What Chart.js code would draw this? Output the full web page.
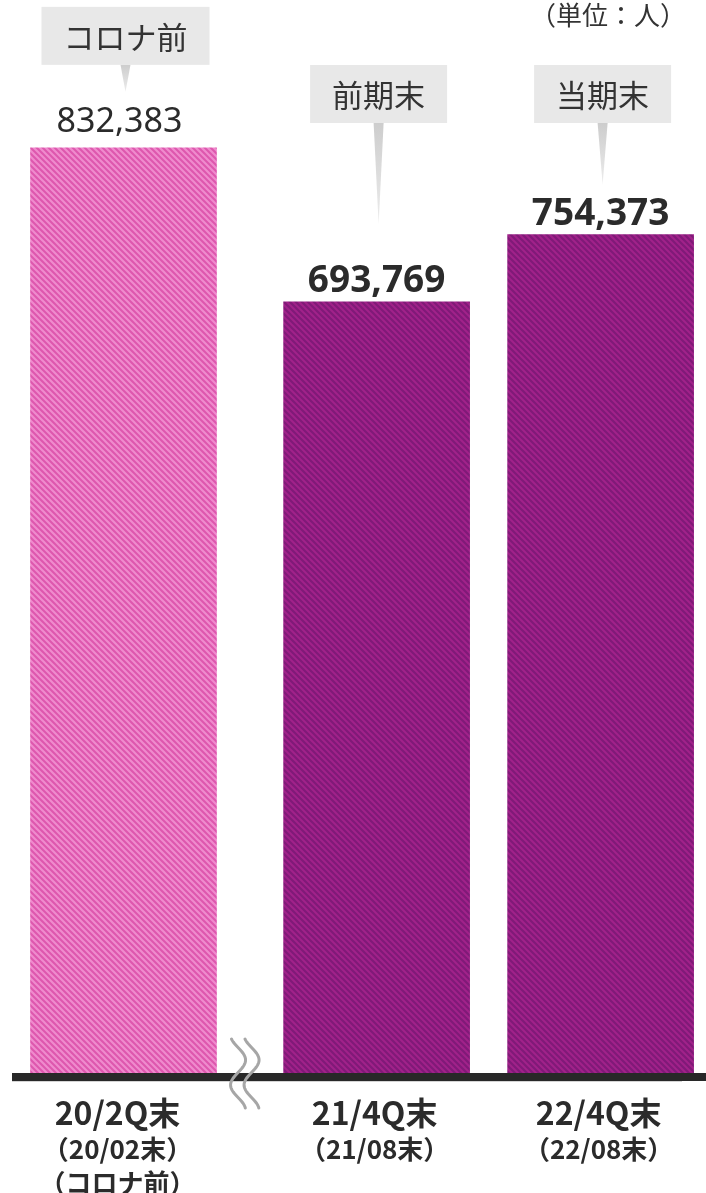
<!DOCTYPE html>
<html lang="ja">
<head>
<meta charset="utf-8">
<title>人数推移</title>
<script src="https://cdn.jsdelivr.net/npm/chart.js@4.4.1/dist/chart.umd.min.js"></script>
<style>
  html, body { margin: 0; padding: 0; background: #fff; }
  #wrap { width: 706px; height: 1193px; }
</style>
</head>
<body>
<div id="wrap"><canvas id="chart" width="706" height="1193"></canvas></div>
<script>
// data
const categories = ['20/2Q末', '21/4Q末', '22/4Q末'];
const subLabels = [['（20/02末）', '（コロナ前）'], ['（21/08末）'], ['（22/08末）']];
const tagLabels = ['コロナ前', '前期末', '当期末'];
const members = [832383, 693769, 754373];
const unitLabel = '（単位：人）';

// layout: the axis break adds a little extra room after the first bar
const BREAK_GAP = 0.13;
const xPos = categories.map((_, i) => i + (i > 0 ? BREAK_GAP : 0));
const tipGap = [56, 78, 50];

const JP = "'Noto Sans CJK JP', 'Noto Sans', sans-serif";
const NUM = "'Noto Sans', 'Noto Sans CJK JP', sans-serif";

function stripes(base, line) {
    const c = document.createElement('canvas');
    c.width = 6; c.height = 6;
    const g = c.getContext('2d');
    g.fillStyle = base;
    g.fillRect(0, 0, 6, 6);
    g.strokeStyle = line;
    g.lineWidth = 2.2;
    g.beginPath();
    for (let k = -6; k <= 6; k += 6) {
        g.moveTo(k - 1, -1);
        g.lineTo(k + 7, 7);
    }
    g.stroke();
    return g.createPattern(c, 'repeat');
}

const ctx = document.getElementById('chart').getContext('2d');
const pink = stripes('#de57ae', '#ef8bcd');
const purple = stripes('#a1228a', '#801a78');

const decor = {
    id: 'decor',
    afterDatasetsDraw(chart) {
        const c = chart.ctx;
        const meta = chart.getDatasetMeta(0);
        const xs = chart.scales.x;
        c.save();

        // base line
        c.fillStyle = '#282828';
        c.fillRect(12, 1073, 694, 8);
        c.fillStyle = '#d4d4d4';
        c.fillRect(12, 1081, 670, 1);

        // axis break mark
        const bx = xs.getPixelForValue((xPos[0] + xPos[1]) / 2) - 6;
        c.strokeStyle = '#a6a6a6';
        c.lineWidth = 3;
        c.lineCap = 'round';
        [bx - 6, bx + 7.5].forEach(ox => {
            c.beginPath();
            for (let y = 1039; y <= 1108; y += 1) {
                const x = ox + 7.5 * Math.cos(2 * Math.PI * (y - 1060) / 50);
                if (y === 1039) c.moveTo(x, y); else c.lineTo(x, y);
            }
            c.stroke();
        });

        meta.data.forEach((bar, i) => {
            // value labels
            c.textAlign = 'center';
            c.textBaseline = 'alphabetic';
            c.fillStyle = '#2b2b2b';
            const txt = members[i].toLocaleString('en-US');
            if (i === 0) {
                c.font = '34px ' + NUM;
                c.fillText(txt, bar.x - 4, bar.y - 16);
            } else {
                c.font = 'bold 37px ' + NUM;
                c.fillText(txt, bar.x, bar.y - 10);
            }

            // callouts
            c.font = '31px ' + JP;
            const bw = c.measureText(tagLabels[i]).width + 44;
            const bh = 58;
            const top = Math.min(65, bar.y - 141);
            const cx = bar.x + 2;
            const tip = bar.y - tipGap[i];
            const grad = c.createLinearGradient(0, top + bh, 0, tip);
            grad.addColorStop(0, '#cdcdcd');
            grad.addColorStop(1, '#ececec');
            c.fillStyle = grad;
            c.beginPath();
            c.moveTo(cx - 5, top + bh);
            c.lineTo(cx + 5, top + bh);
            c.lineTo(cx, tip);
            c.closePath();
            c.fill();
            c.fillStyle = '#e8e8e8';
            c.fillRect(cx - bw / 2, top, bw, bh);
            c.fillStyle = '#333';
            c.textBaseline = 'middle';
            c.fillText(tagLabels[i], cx, top + bh / 2 + 1);

            // category labels
            c.fillStyle = '#2b2b2b';
            const lx = i === 0 ? bar.x - 6 : bar.x - 2;
            c.font = 'bold 32px ' + JP;
            c.fillText(categories[i], lx, 1113);
            c.font = 'bold 26px ' + JP;
            subLabels[i].forEach((s, j) => c.fillText(s, lx, 1149 + j * 34));
        });

        // unit
        c.font = '26px ' + JP;
        c.fillStyle = '#333';
        c.textAlign = 'right';
        c.textBaseline = 'middle';
        c.fillText(unitLabel, 686, 15);
        c.restore();
    }
};

new Chart(ctx, {
    type: 'bar',
    data: {
        datasets: [{
            data: members.map((v, i) => ({ x: xPos[i], y: v })),
            backgroundColor: [pink, purple, purple],
            borderWidth: 0,
            barThickness: 186,
            clip: false
        }]
    },
    options: {
        responsive: false,
        animation: false,
        devicePixelRatio: 1,
        layout: { padding: { left: 11.5, right: 22.5, top: 6, bottom: 120 } },
        scales: {
            x: { type: 'linear', min: -0.5, max: 2.5, offset: false, display: false },
            y: { min: 0, max: 960000, display: false }
        },
        plugins: {
            legend: { display: false },
            tooltip: { enabled: false }
        }
    },
    plugins: [decor]
});
</script>
</body>
</html>
